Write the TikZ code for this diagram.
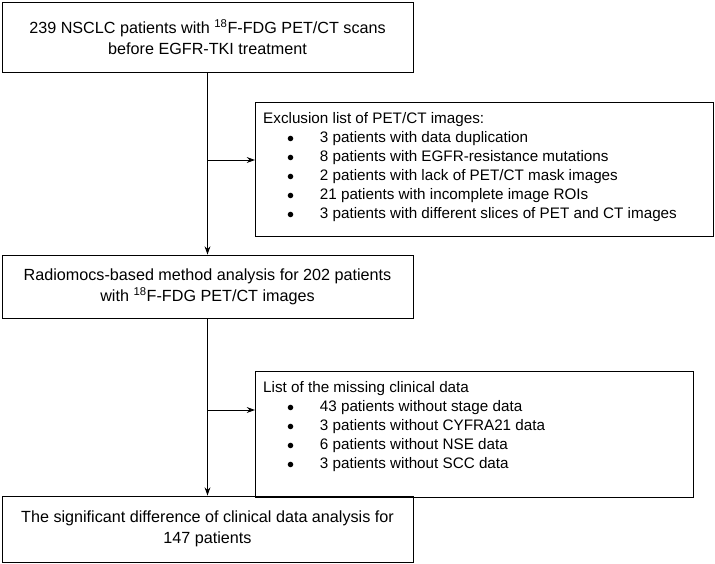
\documentclass[tikz,border=0pt]{standalone}
\usepackage{fontspec}
\setmainfont{Liberation Sans}
\usetikzlibrary{arrows.meta,positioning}
\newcommand{\itm}[1]{\hspace*{0.72cm}\makebox[0.98cm][l]{$\bullet$}#1\\}

\begin{document}
\begin{tikzpicture}[x=0.03cm,y=-0.03cm,
  mainbox/.style={draw,thick,minimum width=12.33cm,align=center,font=\fontsize{13.8}{18}\selectfont},
  listbox/.style={draw,thick,anchor=north west,inner sep=0pt},
  listtext/.style={anchor=north west,align=left,inner sep=0pt,font=\fontsize{13}{16.3}\selectfont},
  flow/.style={thick,-{Stealth[length=7pt,width=5pt]}}]
\useasboundingbox (0,0) rectangle (715,564);

\node (start) [mainbox,minimum height=2.1cm] at (207.5,37)
  {239 NSCLC patients with \textsuperscript{18}F-FDG PET/CT scans\\before EGFR-TKI treatment};
\node (excl) [listbox,minimum width=13.74cm,minimum height=4.02cm] at (255,102) {};
\node (excltext) [listtext] at (263,112)
  {Exclusion list of PET/CT images:\\
   \itm{3 patients with data duplication}
   \itm{8 patients with EGFR-resistance mutations}
   \itm{2 patients with lack of PET/CT mask images}
   \itm{21 patients with incomplete image ROIs}
   \itm{3 patients with different slices of PET and CT images}};
\node (radio) [mainbox,minimum height=1.89cm] at (207.5,286.5)
  {Radiomocs-based method analysis for 202 patients\\with \textsuperscript{18}F-FDG PET/CT images};
\node (miss) [listbox,minimum width=13.14cm,minimum height=3.78cm] at (255,371) {};
\node (misstext) [listtext] at (263,381)
  {List of the missing clinical data\\
   \itm{43 patients without stage data}
   \itm{3 patients without CYFRA21 data}
   \itm{6 patients without NSE data}
   \itm{3 patients without SCC data}};
\node (final) [mainbox,minimum height=1.98cm] at (207.5,529)
  {The significant difference of clinical data analysis for\\147 patients};

\coordinate (b1) at (207.5,160);
\coordinate (b2) at (207.5,410);
\draw[flow] (start.south) -- (radio.north);
\draw[flow] (b1) -- (b1 -| excl.west);
\draw[flow] (radio.south) -- (final.north);
\draw[flow] (b2) -- (b2 -| miss.west);
\end{tikzpicture}
\end{document}
